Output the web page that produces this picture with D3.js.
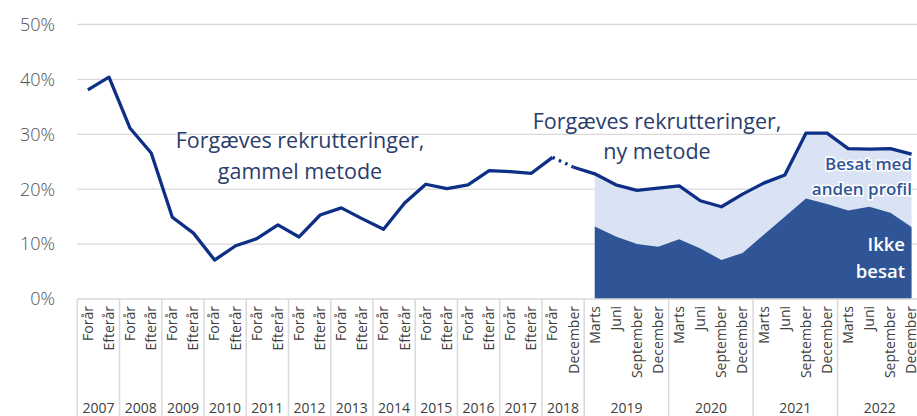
<!DOCTYPE html>
<html>
<head>
<meta charset="utf-8">
<script src="https://cdn.jsdelivr.net/npm/d3@7"></script>
<style>
  body { margin: 0; background: #fff; }
  svg { display: block; font-family: "Open Sans", "Noto Sans", sans-serif; }
</style>
</head>
<body>
<svg id="vis" width="917" height="416"></svg>
<script>
// categories
const halfYears = ["2007","2008","2009","2010","2011","2012","2013","2014","2015","2016","2017"];
const halfLabels = ["Forår","Efterår"];
const year2018Labels = ["Forår","December"];
const quarterYears = ["2019","2020","2021","2022"];
const quarterLabels = ["Marts","Juni","September","December"];

// forgæves rekrutteringer, gammel metode (2007 Forår .. 2018 Forår)
const oldMethod = [38.1, 40.4, 31.1, 26.6, 14.9, 12.0, 7.1, 9.7, 11.0, 13.5,
                   11.3, 15.3, 16.6, 14.6, 12.7, 17.5, 20.9, 20.1, 20.8, 23.4,
                   23.2, 22.9, 25.8];
// forgæves rekrutteringer, ny metode (2018 December .. 2022 December)
const newMethod = [24.0, 22.8, 20.8, 19.8, 20.2, 20.6, 17.9, 16.8, 19.1,
                   21.1, 22.6, 30.2, 30.2, 27.4, 27.3, 27.4, 26.4];
// ikke besat (2019 Marts .. 2022 December)
const ikkeBesat = [13.2, 11.4, 10.0, 9.5, 10.9, 9.2, 7.1, 8.4,
                   11.7, 15.0, 18.3, 17.3, 16.1, 16.8, 15.7, 13.1];
const yTicks = [0, 10, 20, 30, 40, 50];

const cats = [];
const groups = [];
halfYears.forEach(y => { groups.push({year: y, n: 2}); halfLabels.forEach(l => cats.push({key: y + " " + l, label: l})); });
groups.push({year: "2018", n: 2});
year2018Labels.forEach(l => cats.push({key: "2018 " + l, label: l}));
quarterYears.forEach(y => { groups.push({year: y, n: 4}); quarterLabels.forEach(l => cats.push({key: y + " " + l, label: l})); });

const svg = d3.select("#vis");
const left = 77.3, step = 21.12;
const x = d3.scaleBand().domain(cats.map(d => d.key)).range([left, left + step * cats.length]);
const y = d3.scaleLinear().domain([0, 50]).range([299, 24.5]);
const cx = i => x(cats[i].key) + x.bandwidth() / 2;

const navy = "#0e2f86", dark = "#2f5597", light = "#dae3f3", grid = "#d9d9d9";

// gridlines
svg.append("g").selectAll("line").data(yTicks.filter(t => t > 0)).join("line")
  .attr("x1", left).attr("x2", 917).attr("y1", d => y(d)).attr("y2", d => y(d))
  .attr("stroke", grid).attr("stroke-width", 1.3);

// y tick labels
svg.append("g").selectAll("text").data(yTicks).join("text")
  .attr("x", 55).attr("y", d => y(d)).attr("dy", "0.35em")
  .attr("text-anchor", "end").attr("font-size", 18).attr("font-weight", 300).attr("fill", "#505050")
  .text(d => d + "%");

// areas (ny metode split)
const areaIdx = d3.range(24, 40);
const totalAt = i => newMethod[i - 23];
svg.append("path")
  .datum(areaIdx)
  .attr("fill", light)
  .attr("d", d3.area().x(i => cx(i)).y0(y(0)).y1(i => y(totalAt(i))));
svg.append("path")
  .datum(areaIdx)
  .attr("fill", dark)
  .attr("d", d3.area().x(i => cx(i)).y0(y(0)).y1(i => y(ikkeBesat[i - 24])));

// x axis line and group separators
svg.append("line").attr("x1", left).attr("x2", 917).attr("y1", y(0)).attr("y2", y(0))
  .attr("stroke", grid).attr("stroke-width", 1.5);
let acc = 0;
const bounds = [0];
groups.forEach(g => { acc += g.n; bounds.push(acc); });
svg.append("g").selectAll("line").data(bounds).join("line")
  .attr("x1", i => left + step * i).attr("x2", i => left + step * i)
  .attr("y1", y(0)).attr("y2", 416)
  .attr("stroke", grid).attr("stroke-width", 1.5);

// category labels
svg.append("g").selectAll("text").data(cats).join("text")
  .attr("transform", (d, i) => `translate(${cx(i)},306) rotate(-90)`)
  .attr("dy", "0.35em").attr("text-anchor", "end")
  .attr("font-size", 14).attr("fill", "#404040")
  .text(d => d.label);

// year labels
svg.append("g").selectAll("text").data(groups).join("text")
  .attr("x", (g, i) => left + step * (bounds[i] + g.n / 2))
  .attr("y", 413).attr("text-anchor", "middle")
  .attr("font-size", 14).attr("fill", "#404040")
  .text(g => g.year);

// lines
const line = d3.line().x(d => cx(d[0])).y(d => y(d[1]));
svg.append("path")
  .datum(oldMethod.map((v, i) => [i, v]))
  .attr("fill", "none").attr("stroke", navy).attr("stroke-width", 3.3)
  .attr("stroke-linejoin", "round").attr("d", line);
svg.append("path")
  .datum([[22, oldMethod[22]], [23, newMethod[0]]])
  .attr("fill", "none").attr("stroke", navy).attr("stroke-width", 3.3)
  .attr("stroke-dasharray", "2.5,4.5").attr("d", line);
svg.append("path")
  .datum(newMethod.map((v, i) => [i + 23, v]))
  .attr("fill", "none").attr("stroke", navy).attr("stroke-width", 3.3)
  .attr("stroke-linejoin", "round").attr("d", line);

// annotations
const txt = "#2b3d6b";
const note = (lines, xPos, yPos, opts = {}) => {
  const t = svg.append("text").attr("x", xPos).attr("y", yPos)
    .attr("text-anchor", opts.anchor || "middle")
    .attr("font-size", opts.size || 21.5)
    .attr("font-weight", opts.weight || 400)
    .attr("fill", opts.fill || txt);
  if (opts.halo) t.attr("stroke", opts.halo).attr("stroke-width", 3).attr("paint-order", "stroke");
  lines.forEach((l, i) => t.append("tspan").attr("x", xPos).attr("dy", i ? opts.lh || 31 : 0).text(l));
};
note(["Forgæves rekrutteringer,", "gammel metode"], 300, 148);
note(["Forgæves rekrutteringer,", "ny metode"], 657, 129, {lh: 30});
note(["Besat med", "anden profil"], 912, 170, {anchor: "end", size: 17, weight: 600, fill: "#2f5597", halo: "#ffffff", lh: 25});
note(["Ikke", "besat"], 905, 251, {anchor: "end", size: 18.5, weight: 600, fill: "#ffffff", lh: 27});
</script>
</body>
</html>
